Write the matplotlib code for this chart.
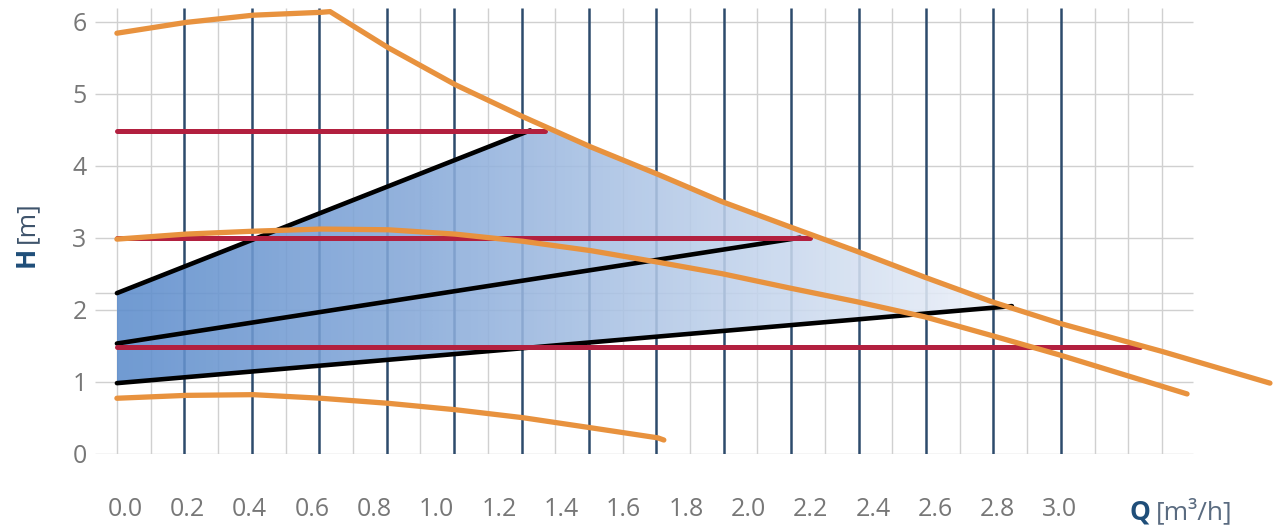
import numpy as np
import matplotlib
matplotlib.use("Agg")
import matplotlib.pyplot as plt
from matplotlib.colors import LinearSegmentedColormap
from matplotlib.patches import Polygon

plt.rcParams['font.family'] = ['Open Sans', 'DejaVu Sans']

# pump curves, Q in m3/h, H in m
q_max = [-0.026, 0.196, 0.411, 0.629, 0.658, 0.844, 1.062, 1.277, 1.495,
         1.710, 1.916, 2.134, 2.349, 2.567, 2.782, 3.000, 3.328, 3.674]
h_max = [5.84, 5.99, 6.09, 6.13, 6.14, 5.64, 5.12, 4.68, 4.26,
         3.88, 3.50, 3.15, 2.81, 2.45, 2.11, 1.81, 1.42, 0.98]

q_mid = [-0.026, 0.196, 0.411, 0.629, 0.844, 1.059, 1.277, 1.495, 1.710,
         1.916, 2.134, 2.349, 2.567, 2.782, 3.000, 3.408]
h_mid = [2.98, 3.05, 3.09, 3.12, 3.11, 3.05, 2.95, 2.82, 2.66,
         2.50, 2.30, 2.11, 1.90, 1.64, 1.37, 0.83]

q_min = [-0.026, 0.196, 0.411, 0.629, 0.844, 1.062, 1.277, 1.495, 1.710, 1.729]
h_min = [0.77, 0.81, 0.82, 0.77, 0.70, 0.61, 0.50, 0.36, 0.22, 0.19]

# constant pressure lines (red): H, end Q
red_h = [4.48, 2.99, 1.48]
red_q_end = [1.348, 2.198, 3.257]

# proportional pressure lines (black): (q0, h0) -> (q1, h1)
black_q0 = [-0.026, -0.026, -0.026]
black_h0 = [2.23, 1.53, 0.98]
black_q1 = [1.300, 2.166, 2.846]
black_h1 = [4.49, 3.00, 2.05]

# axis
x_ticks = [0.0, 0.2, 0.4, 0.6, 0.8, 1.0, 1.2, 1.4, 1.6, 1.8, 2.0, 2.2, 2.4, 2.6, 2.8, 3.0]
x_labels = ["%.1f" % v for v in x_ticks]
y_ticks = [0, 1, 2, 3, 4, 5, 6]
extra_h = 2.23

# vertical grid (the drawing's grid does not sit on the labels)
grid_q = -0.0257 + 0.10817 * np.arange(32)
dark_idx = np.arange(2, 29, 2)

xlim = (-0.0963, 3.687)
ylim = (0, 6.19)

fig = plt.figure(figsize=(12.74, 5.32), dpi=100)
ax = fig.add_axes([95 / 1274, (532 - 453.7) / 532, 1 - 95 / 1274, (453.7 - 8) / 532])

# grid
ax.hlines(y_ticks + [extra_h], xlim[0], 3.427, color='#d0d0d0', lw=1.0, zorder=1)
light = np.setdiff1d(np.arange(32), dark_idx)
ax.vlines(grid_q[light], 0, ylim[1], color='#d0d0d0', lw=1.0, zorder=1)
ax.vlines(grid_q[dark_idx], 0, ylim[1], color='#2d4b6c', lw=1.8, zorder=1)

# blue working area, gradient clipped to a polygon
qa = np.linspace(black_q0[2], black_q1[2], 2)
ha = np.linspace(black_h0[2], black_h1[2], 2)
qq = np.linspace(black_q1[2], black_q1[0], 200)
hh = np.minimum(np.interp(qq, q_max, h_max), red_h[0])
pts = list(zip(qa, ha)) + list(zip(qq, hh)) + [(black_q1[0], black_h1[0]), (black_q0[0], black_h0[0])]
poly = Polygon(pts, closed=True, facecolor='none', edgecolor='none')
ax.add_patch(poly)
cmap = LinearSegmentedColormap.from_list('area', ['#5d8dcc', '#86a9d9', '#bccfea', '#eef2f9'])
grad = np.linspace(0, 1, 256).reshape(1, -1)
im = ax.imshow(grad, extent=[black_q0[0], black_q1[2], 0, 5], aspect='auto',
               cmap=cmap, alpha=0.88, zorder=2, interpolation='bilinear')
im.set_clip_path(poly)

# black lines
for i in range(3):
    ax.plot([black_q0[i], black_q1[i]], [black_h0[i], black_h1[i]],
            color='black', lw=3.3, solid_capstyle='round', zorder=3)

# red lines
for h, qe in zip(red_h, red_q_end):
    ax.plot([black_q0[0], qe], [h, h], color='#b2203f', lw=3.6,
            solid_capstyle='round', zorder=4)

# orange curves
for q, h in [(q_max, h_max), (q_mid, h_mid), (q_min, h_min)]:
    ax.plot(q, h, color='#e8923e', lw=3.8, solid_capstyle='round',
            solid_joinstyle='round', zorder=5, clip_on=False)

ax.set_xlim(*xlim)
ax.set_ylim(*ylim)
ax.set_xticks(x_ticks, x_labels)
ax.set_yticks(y_ticks)
ax.tick_params(axis='both', length=0, labelsize=18, labelcolor='#777777')
ax.tick_params(axis='x', pad=31)
ax.tick_params(axis='y', pad=6)
for s in ax.spines.values():
    s.set_visible(False)

fig.text(1140 / 1274, 1 - 512 / 532, 'Q', fontsize=19, fontweight='bold',
         color='#1f4e79', ha='center', va='center')
fig.text(1156 / 1274, 1 - 512 / 532, '[m³/h]', fontsize=19,
         color='#5a6b80', ha='left', va='center')
fig.text(26 / 1274, 1 - 257 / 532, 'H', fontsize=19, fontweight='bold',
         color='#1f4e79', ha='center', va='center', rotation=90)
fig.text(27 / 1274, 1 - 222 / 532, '[m]', fontsize=19,
         color='#3e536b', ha='center', va='center', rotation=90)

fig.savefig('out.png', dpi=100)
